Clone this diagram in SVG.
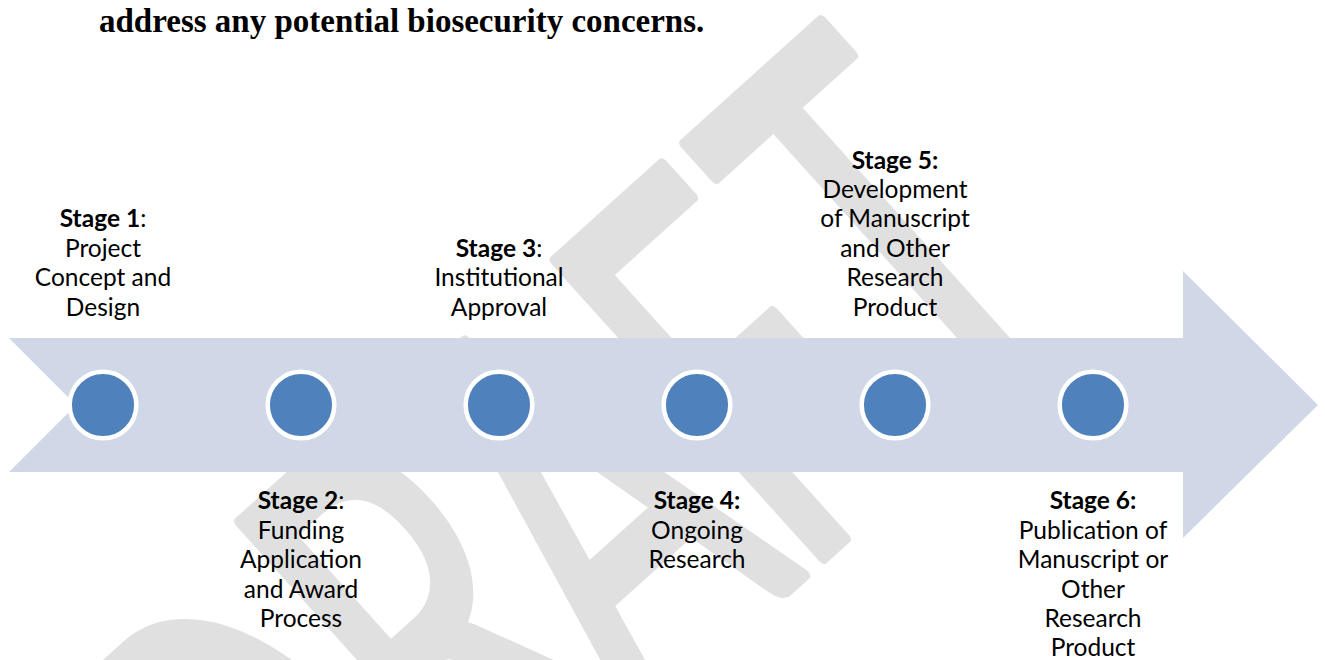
<svg xmlns="http://www.w3.org/2000/svg" width="1325" height="660" viewBox="0 0 1325 660">
  <defs>
    <style>
      .wm { font-family: Lato, "Open Sans", sans-serif; font-size: 100px; fill: #e0e0e0; stroke: #e0e0e0; stroke-width: 2.2; stroke-linejoin: round; }
      .title { font-family: "Liberation Serif", "Times New Roman", serif; font-weight: bold; font-size: 33px; fill: #000; }
      .lbl { font-family: Lato, "Open Sans", sans-serif; font-size: 24.5px; fill: #000; text-anchor: middle; }
      .b { font-weight: bold; }
      .band { fill: #d0d8e8; }
      .dot { fill: #4f81bd; stroke: #ffffff; stroke-width: 4.5; }
    </style>
  </defs>
  <rect width="1325" height="660" fill="#ffffff"/>

  <g id="watermark">
    <text class="wm" transform="rotate(-42) scale(3.33 5.58)" x="-137.5 -61 -3 62 122" y="173 170 173 173 173">DRAFT</text>
  </g>

  <text class="title" x="99" y="32">address any potential biosecurity concerns.</text>

  <g id="connectors">
    <polygon class="band" points="9,338 1183,338 1183,271 1318,405 1183,538 1183,472 9,472 76,405"/>
  </g>

  <g id="stage1">
    <circle class="dot" cx="103" cy="405" r="33.3"/>
    <text class="lbl" x="103" y="227.3"><tspan class="b">Stage 1</tspan>:</text>
    <text class="lbl" x="103" y="256.7">Project</text>
    <text class="lbl" x="103" y="286.1">Concept and</text>
    <text class="lbl" x="103" y="315.5">Design</text>
  </g>

  <g id="stage2">
    <circle class="dot" cx="301" cy="405" r="33.3"/>
    <text class="lbl" x="301" y="509.3"><tspan class="b">Stage 2</tspan>:</text>
    <text class="lbl" x="301" y="538.7">Funding</text>
    <text class="lbl" x="301" y="568.1">Application</text>
    <text class="lbl" x="301" y="597.5">and Award</text>
    <text class="lbl" x="301" y="626.9">Process</text>
  </g>

  <g id="stage3">
    <circle class="dot" cx="499" cy="405" r="33.3"/>
    <text class="lbl" x="499" y="256.7"><tspan class="b">Stage 3</tspan>:</text>
    <text class="lbl" x="499" y="286.1">Institutional</text>
    <text class="lbl" x="499" y="315.5">Approval</text>
  </g>

  <g id="stage4">
    <circle class="dot" cx="697" cy="405" r="33.3"/>
    <text class="lbl b" x="697" y="509.3">Stage 4:</text>
    <text class="lbl" x="697" y="538.7">Ongoing</text>
    <text class="lbl" x="697" y="568.1">Research</text>
  </g>

  <g id="stage5">
    <circle class="dot" cx="895" cy="405" r="33.3"/>
    <text class="lbl b" x="895" y="168.5">Stage 5:</text>
    <text class="lbl" x="895" y="197.9">Development</text>
    <text class="lbl" x="895" y="227.3">of Manuscript</text>
    <text class="lbl" x="895" y="256.7">and Other</text>
    <text class="lbl" x="895" y="286.1">Research</text>
    <text class="lbl" x="895" y="315.5">Product</text>
  </g>

  <g id="stage6">
    <circle class="dot" cx="1093" cy="405" r="33.3"/>
    <text class="lbl b" x="1093" y="509.3">Stage 6:</text>
    <text class="lbl" x="1093" y="538.7">Publication of</text>
    <text class="lbl" x="1093" y="568.1">Manuscript or</text>
    <text class="lbl" x="1093" y="597.5">Other</text>
    <text class="lbl" x="1093" y="626.9">Research</text>
    <text class="lbl" x="1093" y="656.3">Product</text>
  </g>
</svg>
